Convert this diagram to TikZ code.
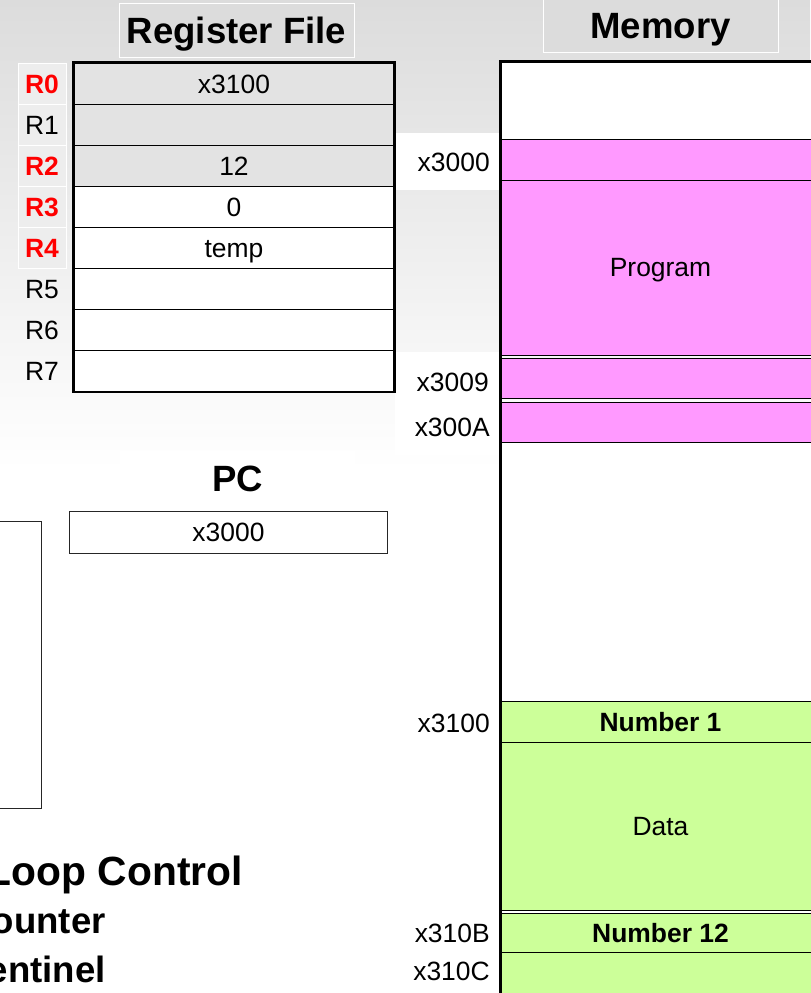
\documentclass[tikz,border=0pt]{standalone}
\usepackage{fontspec}
\setmainfont{Liberation Sans}
\definecolor{slidegray}{HTML}{DCDCDC}
\definecolor{progpink}{HTML}{FF99FF}
\definecolor{datagreen}{HTML}{CCFF99}

\begin{document}
\begin{tikzpicture}[x=0.025cm, y=-0.025cm, font=\fontsize{18.8}{22}\selectfont]
    \tikzset{cell/.style={draw, line width=0.7pt, minimum width=8cm, minimum height=1.0275cm, inner sep=0pt, text height=13.5pt, text depth=0pt},
        usedreg/.style={fill=black!11}, freereg/.style={fill=white},
        reglab/.style={minimum width=1.2cm, minimum height=1.0275cm, inner sep=0pt, text height=13.5pt, text depth=0pt},
        hotlab/.style={fill=black!7, draw=white, text=red, font=\fontsize{18.8}{22}\selectfont\bfseries},
        greylab/.style={fill=black!7, draw=white}, plainlab/.style={},
        memcell/.style={draw, line width=0.7pt, minimum width=7.975cm, inner sep=0pt, text height=13.5pt, text depth=0pt},
        addr/.style={anchor=east, inner sep=0pt, text height=13.5pt, text depth=0pt},
        heading/.style={font=\fontsize{26}{30}\selectfont\bfseries, inner sep=0pt, text height=18.6pt, text depth=0pt, minimum width=5.875cm, minimum height=1.35cm},
        bullet/.style={anchor=base east, inner sep=0pt}}
    \useasboundingbox (0,0) rectangle (810,993);
    % slide background
    \fill[white] (0,0) rectangle (810,993);
    \shade[top color=slidegray, bottom color=white] (0,0) rectangle (810,470);
    \fill[white] (395,133) rectangle (500,190);
    \fill[white] (395,352) rectangle (500,455);
    \fill[white] (395,900) rectangle (500,993);
    \fill[white] (120,451) rectangle (355,505);

    % register file
    \node[heading, draw=white, fill=slidegray] (regtitle) at (236.5,30) {Register File};
    \foreach \i/\lab/\val/\rs/\ls in {0/R0/x3100/usedreg/hotlab, 1/R1/{}/usedreg/greylab, 2/R2/12/usedreg/hotlab, 3/R3/0/freereg/hotlab,
        4/R4/temp/freereg/hotlab, 5/R5/{}/freereg/plainlab, 6/R6/{}/freereg/plainlab, 7/R7/{}/freereg/plainlab} {
        \node[cell, \rs] (reg\i) at (234,{83.6+41.1*\i}) {\val};
        \node[reglab, \ls] (lab\i) at (42,{83.6+41.1*\i}) {\lab};
    }
    \draw[line width=1.6pt] (reg0.north west) rectangle (reg7.south east);

    % program counter
    \node[heading, minimum width=0pt, minimum height=0pt] (pctitle) at (237.5,478) {PC};
    \node[cell, minimum width=7.925cm, draw=black!85, fill=white] (pc) at (228.5,532.5) {x3000};
    \node[draw=black!85, line width=0.7pt, minimum width=8.525cm, minimum height=7.15cm] (leftbox) at (-129.5,665) {};

    % memory
    \node[heading, draw=white, fill=slidegray] (memtitle) at (660.5,25) {Memory};
    \foreach \nm/\top/\bot/\col/\txt in {memtop/62/139/white/{}, mem3000/139/180/progpink/{}, prog/180/355/progpink/Program,
        mem3009/358/398/progpink/{}, mem300A/402/442/progpink/{}, memfree/442/701/white/{},
        num1/701/742/datagreen/\textbf{Number 1}, data/742/910/datagreen/Data,
        num12/913/952/datagreen/\textbf{Number 12}, mem310C/952/993/datagreen/{}} {
        \node[memcell, fill=\col, minimum height={(\bot-\top)*0.025cm}] (\nm) at (660.5,{(\top+\bot)/2}) {\txt};
    }
    \draw[line width=1.6pt] (memtop.north east) -- (memtop.north west) -- (mem310C.south west);
    \node[addr] (a3000) at (490,162) {x3000};
    \node[addr] (a3009) at (489,382) {x3009};
    \node[addr] (a300A) at (490,427) {x300A};
    \node[addr] (a3100) at (490,723) {x3100};
    \node[addr] (a310B) at (490,933) {x310B};
    \node[addr] (a310C) at (490,971) {x310C};

    % loop control text
    \node[bullet, font=\fontsize{29}{34}\selectfont\bfseries] (loopctl) at (243,885) {Loop Control};
    \node[bullet, font=\fontsize{26}{30}\selectfont\bfseries] (counter) at (106,933) {ounter};
    \node[bullet, font=\fontsize{26}{30}\selectfont\bfseries] (sentinel) at (106,982) {entinel};
\end{tikzpicture}
\end{document}
